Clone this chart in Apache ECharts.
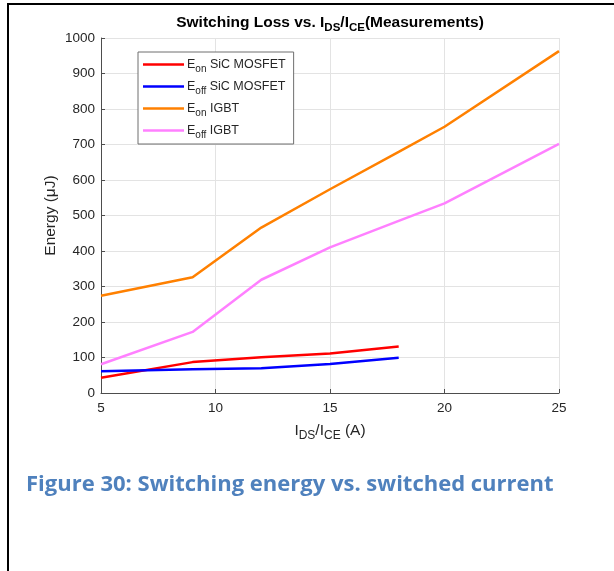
<!DOCTYPE html>
<html>
<head>
<meta charset="utf-8">
<script src="https://cdn.jsdelivr.net/npm/echarts@6/dist/echarts.min.js"></script>
<style>
  html, body { margin: 0; padding: 0; background: #ffffff; }
  #chart { width: 614px; height: 571px; }
</style>
</head>
<body>
<div id="chart"></div>
<script>
// Measured switching energies (µJ) against switched current (A)
const sicCurrent  = [5, 9, 12, 15, 18];
const igbtCurrent = [5, 9, 12, 15, 18, 20, 25];
const eonSic   = [43, 87, 101, 111, 131];
const eoffSic  = [61, 67, 70, 82, 99];
const eonIgbt  = [274, 326, 466, 574, 679, 750, 963];
const eoffIgbt = [81, 172, 319, 410, 485, 534, 702];
const seriesNames = ['Eon SiC MOSFET', 'Eoff SiC MOSFET', 'Eon IGBT', 'Eoff IGBT'];
const seriesColors = ['#ff0000', '#0000ff', '#ff8000', '#ff80ff'];

const pairs = (xs, ys) => xs.map((x, i) => [x, ys[i]]);

const axisColor = '#4d4d4d';
const textColor = '#262626';
const FONT = '"Liberation Sans", Arial, sans-serif';

// legend labels with subscripted "on"/"off"
const legendRich = {
  n: { fontSize: 12.5, fontFamily: FONT, color: textColor },
  s: { fontSize: 10, fontFamily: FONT, color: textColor, padding: [9, 0, 0, 0] }
};
const legendText = {
  'Eon SiC MOSFET':  '{n|E}{s|on}{n| SiC MOSFET}',
  'Eoff SiC MOSFET': '{n|E}{s|off}{n| SiC MOSFET}',
  'Eon IGBT':        '{n|E}{s|on}{n| IGBT}',
  'Eoff IGBT':       '{n|E}{s|off}{n| IGBT}'
};

const chart = echarts.init(document.getElementById('chart'), null, { renderer: 'canvas' });

const lineSeries = (name, xs, ys, color) => ({
  name: name,
  type: 'line',
  data: pairs(xs, ys),
  symbol: 'none',
  showSymbol: false,
  smooth: false,
  lineStyle: { color: color, width: 2.5 },
  itemStyle: { color: color },
  z: 3
});

chart.setOption({
  animation: false,
  backgroundColor: '#ffffff',
  title: [
    {
      text: '{b|Switching Loss vs. I}{bs|DS}{b|/I}{bs|CE}{b|(Measurements)}',
      left: 325,
      top: 6,
      textAlign: 'center',
      textStyle: {
        rich: {
          b:  { fontSize: 15.5, fontWeight: 'bold', fontFamily: FONT, color: '#000000' },
          bs: { fontSize: 11.5, fontWeight: 'bold', fontFamily: FONT, color: '#000000', padding: [11, 0, 0, 0] }
        }
      }
    },
    {
      text: 'Figure 30: Switching energy vs. switched current',
      left: 21,
      top: 469,
      textStyle: {
        fontFamily: '"Open Sans", sans-serif',
        fontWeight: 'bold',
        fontSize: 22,
        color: '#4f81bd'
      }
    }
  ],
  legend: {
    orient: 'vertical',
    left: 138,
    top: 52,
    icon: 'rect',
    itemWidth: 41,
    itemHeight: 2.5,
    itemGap: 6,
    padding: [6, 8, 4, 5],
    backgroundColor: '#ffffff',
    borderColor: '#6e6e6e',
    borderWidth: 1,
    data: seriesNames,
    formatter: name => legendText[name],
    textStyle: { rich: legendRich, padding: [0, 0, 0, -2] }
  },
  grid: { left: 101, right: 55, top: 38, bottom: 178, containLabel: false },
  xAxis: {
    type: 'value',
    min: 5, max: 25, interval: 5,
    name: '{n|I}{s|DS}{n|/I}{s|CE}{n| (A)}',
    nameLocation: 'middle',
    nameGap: 26,
    nameMoveOverlap: false,
    nameTextStyle: {
      rich: {
        n: { fontSize: 15.5, fontFamily: FONT, color: textColor },
        s: { fontSize: 12, fontFamily: FONT, color: textColor, padding: [11, 0, 0, 0] }
      }
    },
    axisLine: { show: true, lineStyle: { color: axisColor, width: 1 } },
    axisTick: { show: true, inside: true, length: 4, lineStyle: { color: axisColor } },
    axisLabel: { fontSize: 13.5, fontFamily: FONT, color: textColor, margin: 8 },
    splitLine: { show: true, lineStyle: { color: '#e3e3e3', width: 1 } }
  },
  yAxis: {
    type: 'value',
    min: 0, max: 1000, interval: 100,
    name: 'Energy (μJ)',
    nameLocation: 'middle',
    nameGap: 42,
    nameMoveOverlap: false,
    nameTextStyle: { fontSize: 15.5, fontFamily: FONT, color: textColor },
    axisLine: { show: true, lineStyle: { color: axisColor, width: 1 } },
    axisTick: { show: true, inside: true, length: 4, lineStyle: { color: axisColor } },
    axisLabel: { fontSize: 13.5, fontFamily: FONT, color: textColor, margin: 6, formatter: v => String(v) },
    splitLine: { show: true, lineStyle: { color: '#e3e3e3', width: 1 } }
  },
  series: [
    lineSeries(seriesNames[0], sicCurrent, eonSic, seriesColors[0]),
    lineSeries(seriesNames[1], sicCurrent, eoffSic, seriesColors[1]),
    lineSeries(seriesNames[2], igbtCurrent, eonIgbt, seriesColors[2]),
    lineSeries(seriesNames[3], igbtCurrent, eoffIgbt, seriesColors[3])
  ],
  graphic: [
    // page frame: top and left rules
    { type: 'line', shape: { x1: 7, y1: 4, x2: 614, y2: 4 }, style: { stroke: '#000000', lineWidth: 2 }, silent: true },
    { type: 'line', shape: { x1: 8, y1: 3, x2: 8, y2: 571 }, style: { stroke: '#000000', lineWidth: 2 }, silent: true }
  ]
});
</script>
</body>
</html>
